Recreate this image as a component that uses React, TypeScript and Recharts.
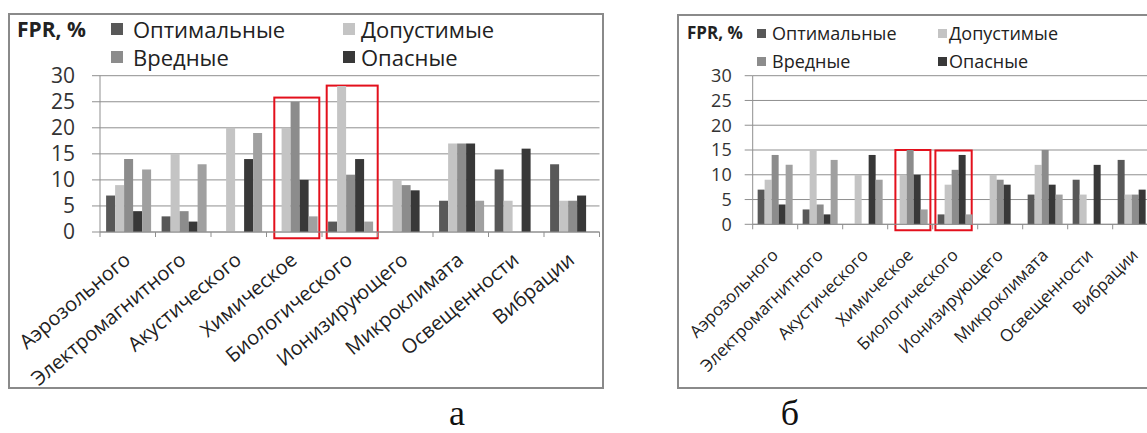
import React from 'react';
import { BarChart, Bar, XAxis, YAxis, CartesianGrid, Legend, ReferenceArea } from 'recharts';

// Categories of working-condition factors
const categories = [
  'Аэрозольного',
  'Электромагнитного',
  'Акустического',
  'Химическое',
  'Биологического',
  'Ионизирующего',
  'Микроклимата',
  'Освещенности',
  'Вибрации',
];

// Legend names for the first four series; the fifth one is drawn without a legend entry
const seriesNames = ['Оптимальные', 'Допустимые', 'Вредные', 'Опасные'];
const seriesKeys = ['optimal', 'allowed', 'harmful', 'dangerous', 'extra'];

const yTicks = [0, 5, 10, 15, 20, 25, 30];

// Panel "а"
const optimalA = [7, 3, 0, 0, 2, 0, 6, 12, 13];
const allowedA = [9, 15, 20, 20, 28, 10, 17, 6, 6];
const harmfulA = [14, 4, 0, 25, 11, 9, 17, 0, 6];
const dangerousA = [4, 2, 14, 10, 14, 8, 17, 16, 7];
const extraA = [12, 13, 19, 3, 2, 0, 6, 0, 0];

// Panel "б"
const optimalB = [7, 3, 0, 0, 2, 0, 6, 9, 13];
const allowedB = [9, 15, 10, 10, 8, 10, 12, 6, 6];
const harmfulB = [14, 4, 0, 15, 11, 9, 15, 0, 6];
const dangerousB = [4, 2, 14, 10, 14, 8, 8, 12, 7];
const extraB = [12, 13, 9, 3, 2, 0, 6, 0, 0];

// Highlighted groups (red frames): category and upper value of the frame
const highlightsA = [
  { category: 'Химическое', top: 25.8 },
  { category: 'Биологического', top: 28.1 },
];
const highlightsB = [
  { category: 'Химическое', top: 15 },
  { category: 'Биологического', top: 14.9 },
];
const frameBottom = -1.2;

const FONT = "'Open Sans', 'Noto Sans', sans-serif";
const GRID = '#8f8f8f';
const colors = ['#585858', '#c4c4c4', '#8c8c8c', '#383838', '#a0a0a0'];

function makeRows(s: number[][]) {
  return categories.map((category, i) => ({
    category,
    optimal: s[0][i],
    allowed: s[1][i],
    harmful: s[2][i],
    dangerous: s[3][i],
    extra: s[4][i],
  }));
}

const rowsA = makeRows([optimalA, allowedA, harmfulA, dangerousA, extraA]);
const rowsB = makeRows([optimalB, allowedB, harmfulB, dangerousB, extraB]);

type LegendLayout = {
  titleX: number;
  titleSize: number;
  fontSize: number;
  square: number;
  squareX: number[];
  textX: number[];
  rowY: number[];
};

type PanelProps = {
  rows: ReturnType<typeof makeRows>;
  highlights: { category: string; top: number }[];
  frameInsets: number[][];
  left: number;
  width: number;
  height: number;
  plot: { left: number; top: number; right: number; bottom: number };
  yFont: number;
  yTickMargin: number;
  xFont: number;
  xAngle: number;
  xDx: number;
  xDy: number;
  legend: LegendLayout;
};

function CategoryTick(props: any) {
  const { x, y, payload, index, half, fontSize, angle, dx, dy, count } = props;
  const tx = x + dx;
  const ty = y + dy;
  return (
    <g>
      <line x1={x - half} x2={x - half} y1={y} y2={y + 5} stroke={GRID} strokeWidth={1} />
      {index === count - 1 && (
        <line x1={x + half} x2={x + half} y1={y} y2={y + 5} stroke={GRID} strokeWidth={1} />
      )}
      <text
        x={tx}
        y={ty}
        transform={`rotate(${angle}, ${tx}, ${ty})`}
        textAnchor="end"
        fontSize={fontSize}
        fontFamily={FONT}
        fill="#222"
      >
        {payload.value}
      </text>
    </g>
  );
}

function Panel(p: PanelProps) {
  const { plot, legend } = p;
  const half = (plot.right - plot.left) / categories.length / 2;
  const lh = legend.fontSize + 6;
  const renderLegend = (lp: any) => {
    const items = (lp.payload || [])
      .filter((it: any) => it.type !== 'none' && seriesNames.includes(it.value))
      .sort((a: any, b: any) => seriesNames.indexOf(a.value) - seriesNames.indexOf(b.value));
    return (
      <div style={{ position: 'relative', width: p.width, height: 70, fontFamily: FONT, color: '#222' }}>
        <div
          style={{
            position: 'absolute',
            left: legend.titleX,
            top: legend.rowY[0] - lh / 2,
            lineHeight: `${lh}px`,
            fontSize: legend.titleSize,
            fontWeight: 700,
            whiteSpace: 'nowrap',
          }}
        >
          FPR, %
        </div>
        {items.map((it: any, i: number) => {
          const col = i % 2;
          const row = Math.floor(i / 2);
          return (
            <React.Fragment key={it.value}>
              <div
                style={{
                  position: 'absolute',
                  left: legend.squareX[col],
                  top: legend.rowY[row] - legend.square / 2,
                  width: legend.square,
                  height: legend.square,
                  background: it.color,
                }}
              />
              <div
                style={{
                  position: 'absolute',
                  left: legend.textX[col],
                  top: legend.rowY[row] - lh / 2,
                  lineHeight: `${lh}px`,
                  fontSize: legend.fontSize,
                  whiteSpace: 'nowrap',
                }}
              >
                {it.value}
              </div>
            </React.Fragment>
          );
        })}
      </div>
    );
  };

  return (
    <div style={{ position: 'absolute', left: p.left, top: 0, width: p.width, height: p.height }}>
      <BarChart
        width={p.width}
        height={p.height}
        data={p.rows}
        margin={{ top: plot.top, left: 0, right: p.width - plot.right, bottom: 0 }}
        barCategoryGap="11%"
        barGap={0}
      >
        <CartesianGrid vertical={false} stroke={GRID} strokeWidth={1} />
        <XAxis
          dataKey="category"
          interval={0}
          height={p.height - plot.bottom}
          tickSize={0}
          tickMargin={0}
          tickLine={false}
          axisLine={{ stroke: GRID }}
          tick={(tp: any) => (
            <CategoryTick
              x={tp.x}
              y={tp.y}
              payload={tp.payload}
              index={tp.index}
              half={half}
              count={categories.length}
              fontSize={p.xFont}
              angle={p.xAngle}
              dx={p.xDx}
              dy={p.xDy}
            />
          )}
        />
        <YAxis
          domain={[0, 30]}
          ticks={yTicks}
          interval={0}
          width={plot.left}
          tickSize={8}
          tickMargin={p.yTickMargin}
          tickLine={{ stroke: GRID }}
          axisLine={{ stroke: GRID }}
          tick={{ fontSize: p.yFont, fill: '#333', fontFamily: FONT }}
        />
        <Legend
          layout="horizontal"
          verticalAlign="middle"
          align="center"
          wrapperStyle={{ left: 0, top: 0, width: p.width, height: 70 }}
          content={renderLegend}
        />
        {seriesKeys.map((k, i) => (
          <Bar
            key={k}
            dataKey={k}
            name={seriesNames[i] ?? k}
            fill={colors[i]}
            legendType={i < seriesNames.length ? 'square' : 'none'}
            isAnimationActive={false}
          />
        ))}
        {p.highlights.map((h, i) => (
          <ReferenceArea
            key={h.category}
            x1={h.category}
            x2={h.category}
            y1={frameBottom}
            y2={h.top}
            ifOverflow="visible"
            shape={(sp: any) => (
              <rect
                x={sp.x + p.frameInsets[i][0]}
                y={sp.y}
                width={sp.width - p.frameInsets[i][0] - p.frameInsets[i][1]}
                height={sp.height}
                fill="none"
                stroke="#e3101c"
                strokeWidth={2}
              />
            )}
          />
        ))}
      </BarChart>
    </div>
  );
}

const captionStyle: React.CSSProperties = {
  position: 'absolute',
  top: 395,
  transform: 'translateX(-50%)',
  fontFamily: "'Liberation Serif', 'DejaVu Serif', serif",
  fontSize: 36,
  lineHeight: '36px',
  color: '#111',
};

export default function App() {
  return (
    <div
      style={{
        position: 'absolute',
        left: 0,
        top: 0,
        width: 1147,
        height: 433,
        overflow: 'hidden',
        background: '#fff',
      }}
    >
      {/* chart frames */}
      <div
        style={{
          position: 'absolute',
          left: 8,
          top: 13,
          width: 596,
          height: 376,
          border: '2px solid #8a8a8a',
          boxSizing: 'border-box',
        }}
      />
      <div
        style={{
          position: 'absolute',
          left: 677,
          top: 14,
          width: 490,
          height: 375,
          border: '2px solid #8a8a8a',
          boxSizing: 'border-box',
        }}
      />
      <Panel
        rows={rowsA}
        highlights={highlightsA}
        frameInsets={[
          [7.8, 2.7],
          [4.7, -0.2],
        ]}
        left={0}
        width={620}
        height={392}
        plot={{ left: 100, top: 75.7, right: 599.5, bottom: 232 }}
        yFont={21}
        yTickMargin={17}
        xFont={20}
        xAngle={-40}
        xDx={4}
        xDy={30}
        legend={{
          titleX: 17,
          titleSize: 21,
          fontSize: 22,
          square: 12,
          squareX: [111, 343],
          textX: [133, 361],
          rowY: [29, 57],
        }}
      />
      <Panel
        rows={rowsB}
        highlights={highlightsB}
        frameInsets={[
          [7.7, 2.3],
          [2.7, 6],
        ]}
        left={660}
        width={520}
        height={392}
        plot={{ left: 92.7, top: 75.7, right: 497.7, bottom: 224.3 }}
        yFont={18}
        yTickMargin={13}
        xFont={17}
        xAngle={-45}
        xDx={4}
        xDy={32}
        legend={{
          titleX: 27,
          titleSize: 17,
          fontSize: 18,
          square: 9,
          squareX: [97, 278],
          textX: [112, 289],
          rowY: [33, 61],
        }}
      />
      <div style={{ ...captionStyle, left: 457 }}>а</div>
      <div style={{ ...captionStyle, left: 790 }}>б</div>
    </div>
  );
}
